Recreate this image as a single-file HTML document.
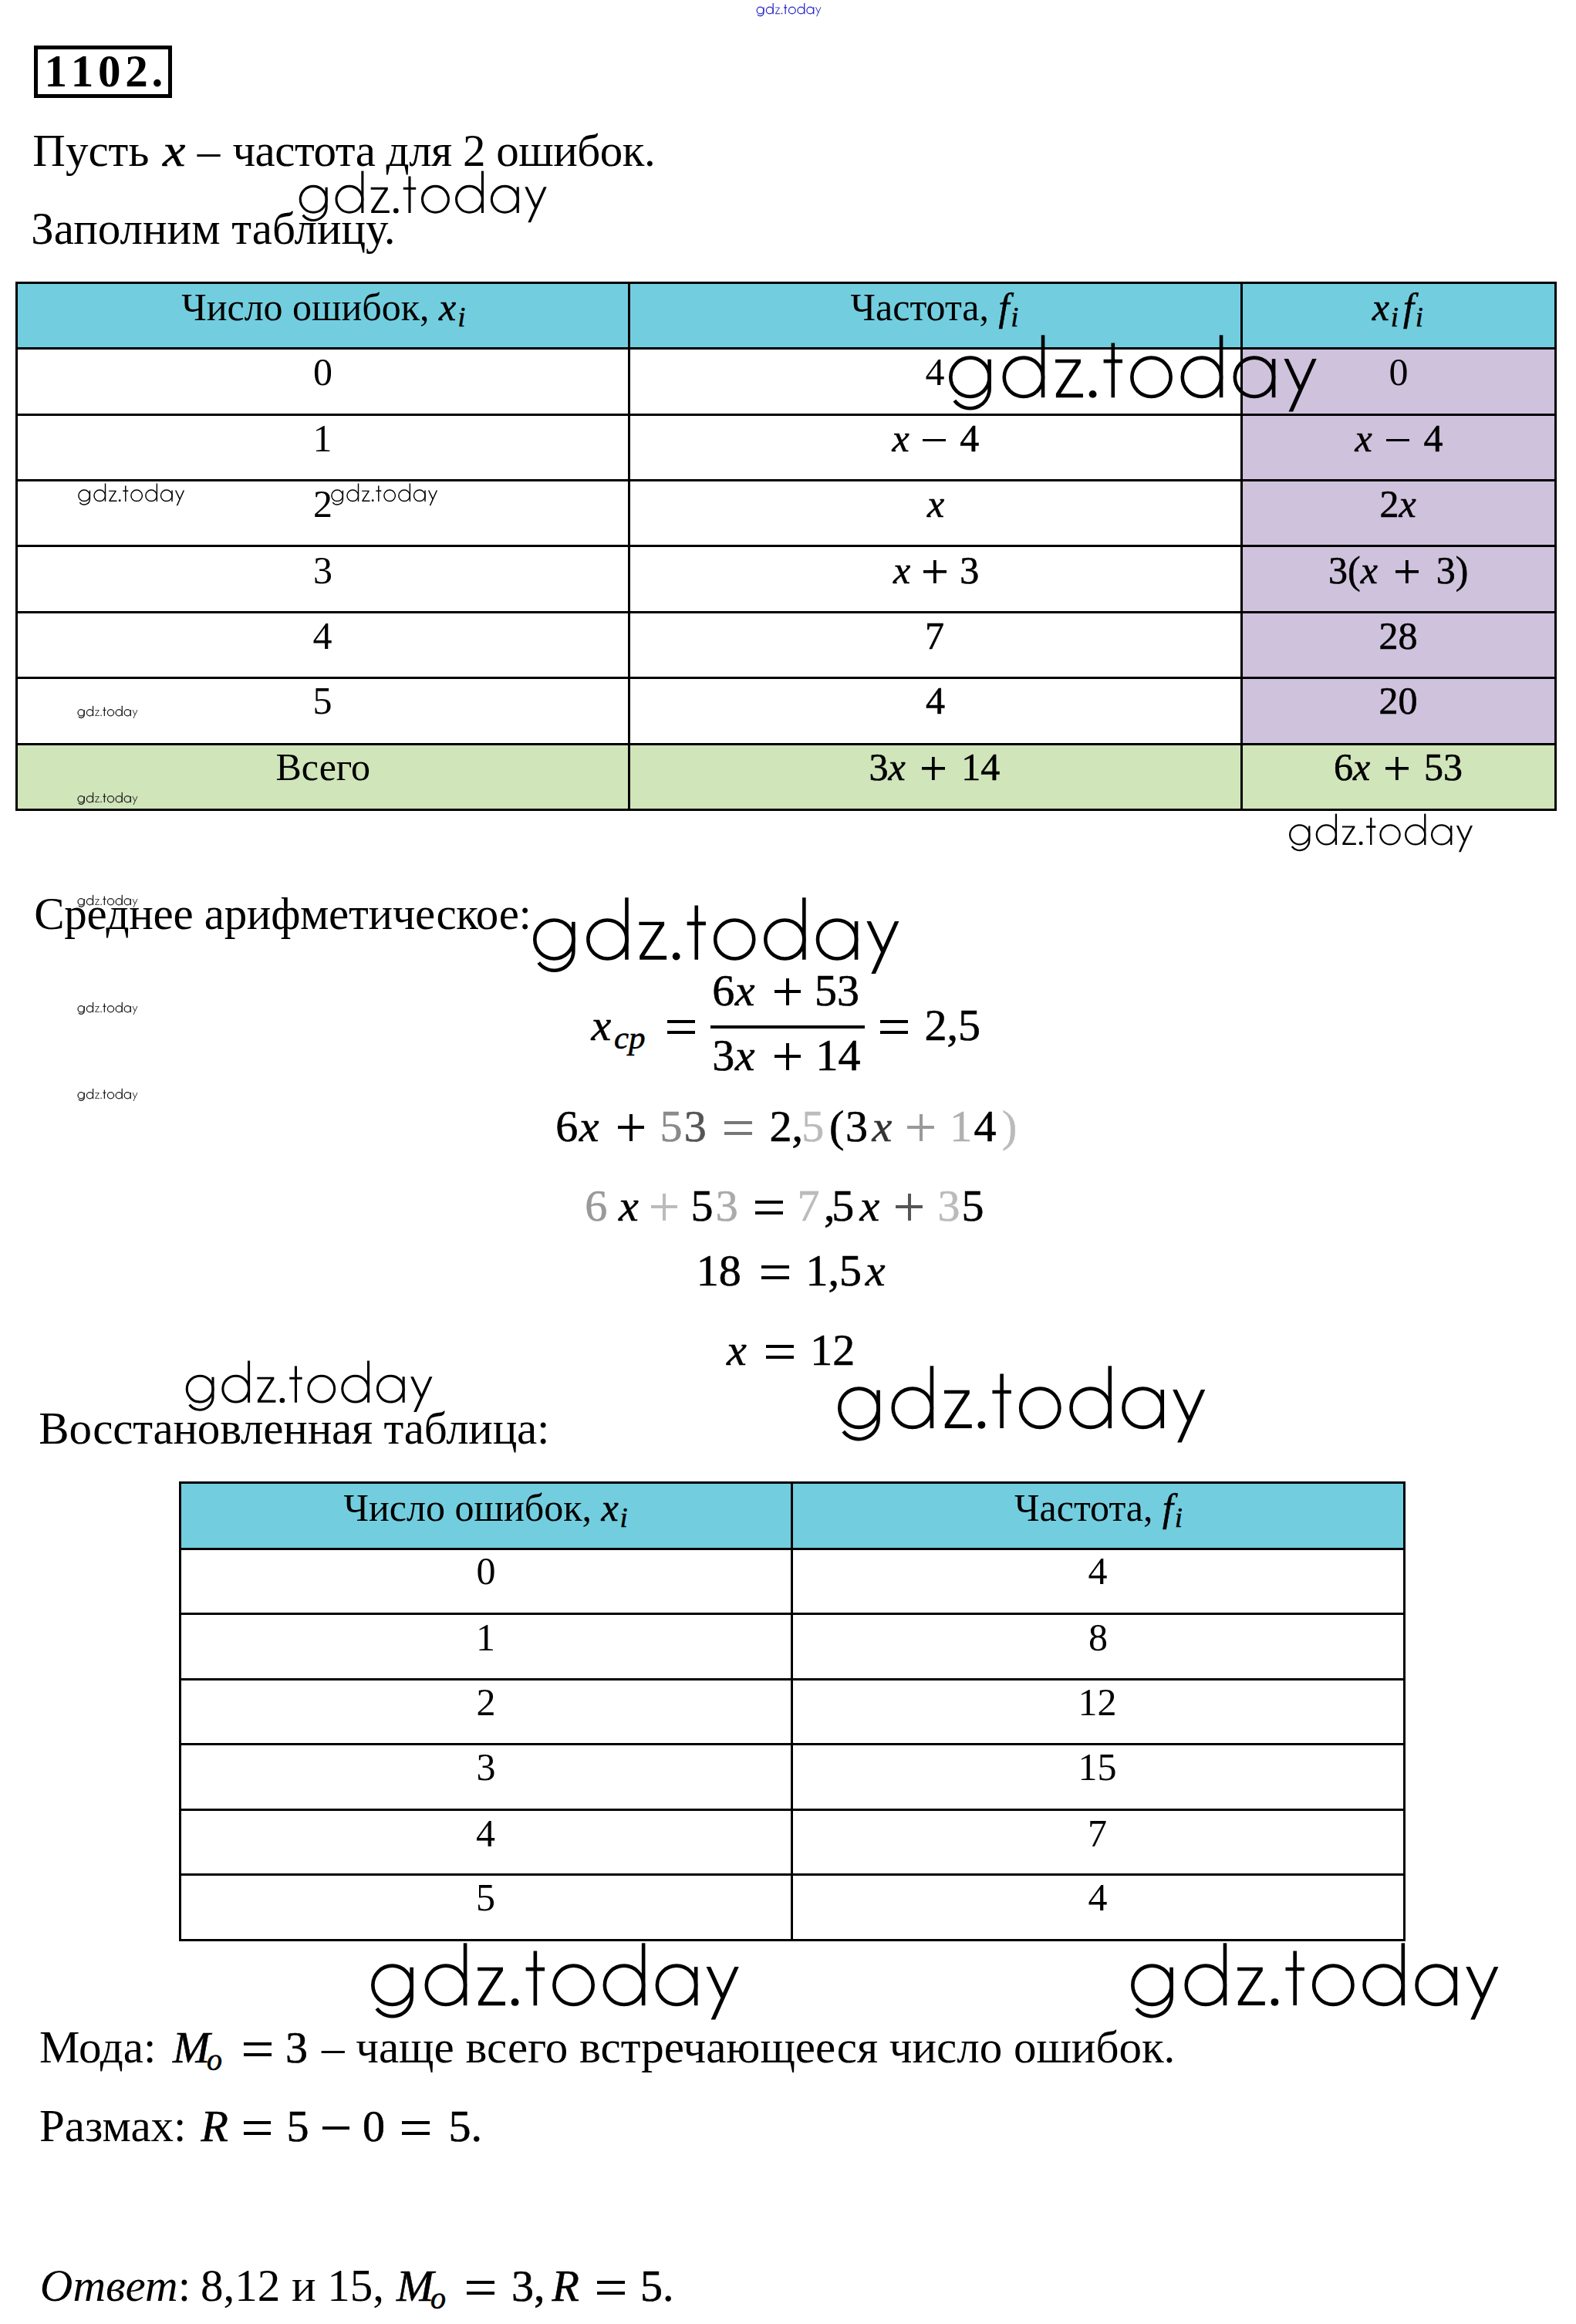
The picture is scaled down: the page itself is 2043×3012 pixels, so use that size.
<!DOCTYPE html>
<html><head><meta charset="utf-8"><title>1102</title>
<style>
html,body{margin:0;padding:0;background:#fff}
body{width:2043px;height:3012px;position:relative;overflow:hidden;font-family:'Liberation Serif',serif;color:#000}
.t{position:absolute;white-space:nowrap;font-family:'Liberation Serif',serif}
.op{margin:0 var(--m)} .pl{display:inline-block;width:.6em;height:.6em;background:linear-gradient(currentColor,currentColor) center/100% .075em no-repeat,linear-gradient(currentColor,currentColor) center/.075em 100% no-repeat} .mi{display:inline-block;width:.6em;height:.075em;background:currentColor;vertical-align:.252em} .eq{display:inline-block;width:.62em;height:.312em;box-sizing:border-box;border-top:.075em solid currentColor;border-bottom:.075em solid currentColor;vertical-align:.145em} sub{font-size:0.7em;vertical-align:-0.22em;font-style:italic;margin-left:.06em} .mt{-webkit-text-stroke:0.6px}
.wm{position:absolute;overflow:visible}
</style></head><body>
<svg width="0" height="0" style="position:absolute">
<defs>
<symbol id="w" viewBox="-4 -86 484 110" overflow="visible">
<g fill="none" stroke="currentColor" style="stroke-width:var(--sw,4.6)">
<circle cx="27.4" cy="-26.3" r="25.1"/>
<path d="M52.5,-49.2 V-11.1 A25.1,25.1 0 0 1 7.3,4.0"/>
<circle cx="96.7" cy="-26.3" r="25.1"/>
<path d="M121.8,-80.7 V0"/>
<path d="M212.4,-70.5 V0 M200.2,-47 H224.6"/>
<circle cx="262.0" cy="-26.3" r="25.1"/>
<circle cx="327.3" cy="-26.3" r="25.1"/>
<path d="M352.4,-80.7 V0"/>
<circle cx="395.2" cy="-26.3" r="25.1"/>
<path d="M420.3,-49.9 V0"/>
</g>
<path fill="currentColor" d="M137.8,-49.2 H170.6 V-44.9 L144.7,-5 H173.6 V0 H138.6 V-5 L164.5,-44.9 H137.8 Z"/>
<path fill="currentColor" d="M433.7,-50 H439.3 L457.9,-10 H452.3 Z M470.3,-50 H475.8 L445.3,18.3 H439.7 Z"/>
<circle fill="currentColor" cx="186.2" cy="-4.25" r="4.9"/>
</symbol>
</defs>
</svg>
<div style="position:absolute;left:44px;top:59px;width:169px;height:58px;border:5px solid #000;z-index:2"></div>
<div class="t" style="left:57.4px;top:63.3px;font-size:59px;line-height:59px;--m:0px;z-index:5;font-weight:bold;">1</div>
<div class="t" style="left:91.7px;top:63.3px;font-size:59px;line-height:59px;--m:0px;z-index:5;font-weight:bold;">1</div>
<div class="t" style="left:127.0px;top:63.3px;font-size:59px;line-height:59px;--m:0px;z-index:5;font-weight:bold;">0</div>
<div class="t" style="left:162.2px;top:63.3px;font-size:59px;line-height:59px;--m:0px;z-index:5;font-weight:bold;">2</div>
<div class="t" style="left:196.5px;top:63.3px;font-size:59px;line-height:59px;--m:0px;z-index:5;font-weight:bold;">.</div>
<div class="t" style="left:42.3px;top:166.0px;font-size:59px;line-height:59px;--m:0px;z-index:5;">Пусть</div>
<div class="t" style="left:211.3px;top:166.0px;font-size:59px;line-height:59px;--m:0px;z-index:5;transform:scaleX(1.12);transform-origin:0 0;-webkit-text-stroke:0.6px;"><i>x</i></div>
<div class="t" style="left:255.8px;top:166.0px;font-size:59px;line-height:59px;--m:0px;z-index:5;">–</div>
<div class="t" style="left:301.4px;top:166.0px;font-size:59px;line-height:59px;--m:0px;z-index:5;letter-spacing:-0.5px;">частота для 2 ошибок.</div>
<div class="t" style="left:40.3px;top:267.0px;font-size:59px;line-height:59px;--m:0px;z-index:5;">Заполним таблицу.</div>
<div style="position:absolute;left:20px;top:365px;width:1998px;height:85px;background:#72cedf;z-index:1"></div>
<div style="position:absolute;left:1608px;top:450px;width:410px;height:513px;background:#cfc2dd;z-index:1"></div>
<div style="position:absolute;left:20px;top:963px;width:1998px;height:85px;background:#d0e5ba;z-index:1"></div>
<div style="position:absolute;left:20px;top:365px;width:1998px;height:3px;background:#000;z-index:3"></div>
<div style="position:absolute;left:20px;top:450px;width:1998px;height:3px;background:#000;z-index:3"></div>
<div style="position:absolute;left:20px;top:536px;width:1998px;height:3px;background:#000;z-index:3"></div>
<div style="position:absolute;left:20px;top:621px;width:1998px;height:3px;background:#000;z-index:3"></div>
<div style="position:absolute;left:20px;top:706px;width:1998px;height:3px;background:#000;z-index:3"></div>
<div style="position:absolute;left:20px;top:792px;width:1998px;height:3px;background:#000;z-index:3"></div>
<div style="position:absolute;left:20px;top:877px;width:1998px;height:3px;background:#000;z-index:3"></div>
<div style="position:absolute;left:20px;top:963px;width:1998px;height:3px;background:#000;z-index:3"></div>
<div style="position:absolute;left:20px;top:1048px;width:1998px;height:3px;background:#000;z-index:3"></div>
<div style="position:absolute;left:20px;top:365px;width:3px;height:686px;background:#000;z-index:3"></div>
<div style="position:absolute;left:814px;top:365px;width:3px;height:686px;background:#000;z-index:3"></div>
<div style="position:absolute;left:1608px;top:365px;width:3px;height:686px;background:#000;z-index:3"></div>
<div style="position:absolute;left:2015px;top:365px;width:3px;height:686px;background:#000;z-index:3"></div>
<div class="t" style="left:235.2px;top:373.0px;font-size:50px;line-height:50px;--m:0px;z-index:5;">Число ошибок, <i class="mt">x</i><sub class="mt">i</sub></div>
<div class="t" style="left:1102.5px;top:373.0px;font-size:50px;line-height:50px;--m:0px;z-index:5;">Частота, <i class="mt">f</i><sub class="mt">i</sub></div>
<div class="t" style="left:1778.7px;top:373.0px;font-size:50px;line-height:50px;--m:0px;z-index:5;"><i class="mt">x</i><sub class="mt" style="margin-right:.18em">i</sub><i class="mt">f</i><sub class="mt">i</sub></div>
<div class="t" style="left:406.0px;top:457.0px;font-size:50px;line-height:50px;--m:0px;z-index:5;">0</div>
<div class="t" style="left:405.5px;top:543.0px;font-size:50px;line-height:50px;--m:0px;z-index:5;">1</div>
<div class="t" style="left:406.0px;top:628.0px;font-size:50px;line-height:50px;--m:0px;z-index:5;">2</div>
<div class="t" style="left:406.0px;top:714.0px;font-size:50px;line-height:50px;--m:0px;z-index:5;">3</div>
<div class="t" style="left:405.5px;top:799.0px;font-size:50px;line-height:50px;--m:0px;z-index:5;">4</div>
<div class="t" style="left:405.5px;top:883.0px;font-size:50px;line-height:50px;--m:0px;z-index:5;">5</div>
<div class="t" style="left:357.5px;top:969.0px;font-size:50px;line-height:50px;--m:0px;z-index:5;">Всего</div>
<div class="t" style="left:1199.4px;top:457.0px;font-size:50px;line-height:50px;--m:0px;z-index:5;">4</div>
<div class="t" style="left:1156.5px;top:543.0px;font-size:50px;line-height:50px;--m:17.75px;z-index:5;-webkit-text-stroke:0.6px;"><i>x</i><span class="op mi"></span>4</div>
<div class="t" style="left:1202.0px;top:628.0px;font-size:50px;line-height:50px;--m:0px;z-index:5;-webkit-text-stroke:0.6px;"><i>x</i></div>
<div class="t" style="left:1158.0px;top:714.0px;font-size:50px;line-height:50px;--m:17.0px;z-index:5;-webkit-text-stroke:0.6px;"><i>x</i><span class="op pl"></span>3</div>
<div class="t" style="left:1199.0px;top:799.0px;font-size:50px;line-height:50px;--m:0px;z-index:5;-webkit-text-stroke:0.6px;">7</div>
<div class="t" style="left:1200.0px;top:883.0px;font-size:50px;line-height:50px;--m:0px;z-index:5;-webkit-text-stroke:0.6px;">4</div>
<div class="t" style="left:1126.5px;top:969.0px;font-size:50px;line-height:50px;--m:21.25px;z-index:5;-webkit-text-stroke:0.6px;">3<i>x</i><span class="op pl"></span>14</div>
<div class="t" style="left:1800.5px;top:457.0px;font-size:50px;line-height:50px;--m:0px;z-index:5;">0</div>
<div class="t" style="left:1756.5px;top:543.0px;font-size:50px;line-height:50px;--m:18.4px;z-index:5;-webkit-text-stroke:0.6px;"><i>x</i><span class="op mi"></span>4</div>
<div class="t" style="left:1788.5px;top:628.0px;font-size:50px;line-height:50px;--m:0px;z-index:5;-webkit-text-stroke:0.6px;">2<i>x</i></div>
<div class="t" style="left:1722.0px;top:714.0px;font-size:50px;line-height:50px;--m:23.0px;z-index:5;-webkit-text-stroke:0.6px;">3(<i>x</i><span class="op pl"></span>3)</div>
<div class="t" style="left:1787.5px;top:799.0px;font-size:50px;line-height:50px;--m:0px;z-index:5;-webkit-text-stroke:0.6px;">28</div>
<div class="t" style="left:1787.5px;top:883.0px;font-size:50px;line-height:50px;--m:0px;z-index:5;-webkit-text-stroke:0.6px;">20</div>
<div class="t" style="left:1729.0px;top:969.0px;font-size:50px;line-height:50px;--m:19.9px;z-index:5;-webkit-text-stroke:0.6px;">6<i>x</i><span class="op pl"></span>53</div>
<div class="t" style="left:44.2px;top:1155.0px;font-size:59px;line-height:59px;--m:0px;z-index:5;letter-spacing:-0.3px">Среднее арифметическое:</div>
<div class="t" style="left:766.4px;top:1300.0px;font-size:58px;line-height:58px;--m:0px;z-index:5;-webkit-text-stroke:0.6px;"><i>x</i></div>
<div class="t" style="left:796.0px;top:1323.0px;font-size:43px;line-height:43px;--m:0px;z-index:5;-webkit-text-stroke:0.6px;"><i>cp</i></div>
<div class="t" style="left:864.8px;top:1300.0px;font-size:58px;line-height:58px;--m:0px;z-index:5;-webkit-text-stroke:0.6px;"><span class="eq"></span></div>
<div style="position:absolute;left:921px;top:1329px;width:200px;height:4px;background:#000;z-index:1"></div>
<div class="t" style="left:923.3px;top:1255.0px;font-size:58px;line-height:58px;--m:0px;z-index:5;-webkit-text-stroke:0.6px;">6</div>
<div class="t" style="left:952.8px;top:1255.0px;font-size:58px;line-height:58px;--m:0px;z-index:5;-webkit-text-stroke:0.6px;"><i>x</i></div>
<div class="t" style="left:1003.7px;top:1255.0px;font-size:58px;line-height:58px;--m:0px;z-index:5;-webkit-text-stroke:0.6px;"><span class="pl"></span></div>
<div class="t" style="left:1056.0px;top:1255.0px;font-size:58px;line-height:58px;--m:0px;z-index:5;-webkit-text-stroke:0.6px;">53</div>
<div class="t" style="left:923.3px;top:1339.0px;font-size:58px;line-height:58px;--m:0px;z-index:5;-webkit-text-stroke:0.6px;">3</div>
<div class="t" style="left:952.8px;top:1339.0px;font-size:58px;line-height:58px;--m:0px;z-index:5;-webkit-text-stroke:0.6px;"><i>x</i></div>
<div class="t" style="left:1003.7px;top:1339.0px;font-size:58px;line-height:58px;--m:0px;z-index:5;-webkit-text-stroke:0.6px;"><span class="pl"></span></div>
<div class="t" style="left:1057.6px;top:1339.0px;font-size:58px;line-height:58px;--m:0px;z-index:5;-webkit-text-stroke:0.6px;">14</div>
<div class="t" style="left:1141.0px;top:1300.0px;font-size:58px;line-height:58px;--m:0px;z-index:5;-webkit-text-stroke:0.6px;"><span class="eq"></span></div>
<div class="t" style="left:1198.5px;top:1300.0px;font-size:58px;line-height:58px;--m:0px;z-index:5;-webkit-text-stroke:0.6px;">2,5</div>
<div class="t" style="left:720.3px;top:1431.0px;font-size:58px;line-height:58px;--m:0px;z-index:5;-webkit-text-stroke:0.6px;">6</div>
<div class="t" style="left:750.7px;top:1431.0px;font-size:58px;line-height:58px;--m:0px;z-index:5;-webkit-text-stroke:0.6px;"><i>x</i></div>
<div class="t" style="left:800.5px;top:1431.0px;font-size:58px;line-height:58px;--m:0px;z-index:5;-webkit-text-stroke:0.6px;"><span class="pl"></span></div>
<div class="t" style="left:855.4px;top:1431.0px;font-size:58px;line-height:58px;--m:0px;z-index:5;color:#8a8a8a;-webkit-text-stroke:0.6px;">5</div>
<div class="t" style="left:886.8px;top:1431.0px;font-size:58px;line-height:58px;--m:0px;z-index:5;color:#555;-webkit-text-stroke:0.6px;">3</div>
<div class="t" style="left:938.6px;top:1431.0px;font-size:58px;line-height:58px;--m:0px;z-index:5;color:#777;-webkit-text-stroke:0.6px;"><span class="eq"></span></div>
<div class="t" style="left:997.5px;top:1431.0px;font-size:58px;line-height:58px;--m:0px;z-index:5;-webkit-text-stroke:0.6px;">2,</div>
<div class="t" style="left:1039.3px;top:1431.0px;font-size:58px;line-height:58px;--m:0px;z-index:5;color:#bbb;-webkit-text-stroke:0.6px;">5</div>
<div class="t" style="left:1074.9px;top:1431.0px;font-size:58px;line-height:58px;--m:0px;z-index:5;-webkit-text-stroke:0.6px;">(</div>
<div class="t" style="left:1096.0px;top:1431.0px;font-size:58px;line-height:58px;--m:0px;z-index:5;-webkit-text-stroke:0.6px;">3</div>
<div class="t" style="left:1130.6px;top:1431.0px;font-size:58px;line-height:58px;--m:0px;z-index:5;color:#333;-webkit-text-stroke:0.6px;"><i>x</i></div>
<div class="t" style="left:1176.3px;top:1431.0px;font-size:58px;line-height:58px;--m:0px;z-index:5;color:#999;-webkit-text-stroke:0.6px;"><span class="pl"></span></div>
<div class="t" style="left:1231.2px;top:1431.0px;font-size:58px;line-height:58px;--m:0px;z-index:5;color:#b0b0b0;-webkit-text-stroke:0.6px;">1</div>
<div class="t" style="left:1262.6px;top:1431.0px;font-size:58px;line-height:58px;--m:0px;z-index:5;-webkit-text-stroke:0.6px;">4</div>
<div class="t" style="left:1299.0px;top:1431.0px;font-size:58px;line-height:58px;--m:0px;z-index:5;color:#bbb;-webkit-text-stroke:0.6px;">)</div>
<div class="t" style="left:758.3px;top:1534.0px;font-size:58px;line-height:58px;--m:0px;z-index:5;color:#999;-webkit-text-stroke:0.6px;">6</div>
<div class="t" style="left:802.0px;top:1534.0px;font-size:58px;line-height:58px;--m:0px;z-index:5;-webkit-text-stroke:0.6px;"><i>x</i></div>
<div class="t" style="left:843.6px;top:1534.0px;font-size:58px;line-height:58px;--m:0px;z-index:5;color:#bbb;-webkit-text-stroke:0.6px;"><span class="pl"></span></div>
<div class="t" style="left:895.4px;top:1534.0px;font-size:58px;line-height:58px;--m:0px;z-index:5;-webkit-text-stroke:0.6px;">5</div>
<div class="t" style="left:927.8px;top:1534.0px;font-size:58px;line-height:58px;--m:0px;z-index:5;color:#aaa;-webkit-text-stroke:0.6px;">3</div>
<div class="t" style="left:978.6px;top:1534.0px;font-size:58px;line-height:58px;--m:0px;z-index:5;-webkit-text-stroke:0.6px;"><span class="eq"></span></div>
<div class="t" style="left:1033.4px;top:1534.0px;font-size:58px;line-height:58px;--m:0px;z-index:5;color:#bbb;-webkit-text-stroke:0.6px;">7</div>
<div class="t" style="left:1067.9px;top:1534.0px;font-size:58px;line-height:58px;--m:0px;z-index:5;-webkit-text-stroke:0.6px;">,</div>
<div class="t" style="left:1078.3px;top:1534.0px;font-size:58px;line-height:58px;--m:0px;z-index:5;-webkit-text-stroke:0.6px;">5</div>
<div class="t" style="left:1114.4px;top:1534.0px;font-size:58px;line-height:58px;--m:0px;z-index:5;-webkit-text-stroke:0.6px;"><i>x</i></div>
<div class="t" style="left:1161.3px;top:1534.0px;font-size:58px;line-height:58px;--m:0px;z-index:5;color:#555;-webkit-text-stroke:0.6px;"><span class="pl"></span></div>
<div class="t" style="left:1215.4px;top:1534.0px;font-size:58px;line-height:58px;--m:0px;z-index:5;color:#bbb;-webkit-text-stroke:0.6px;">3</div>
<div class="t" style="left:1246.6px;top:1534.0px;font-size:58px;line-height:58px;--m:0px;z-index:5;-webkit-text-stroke:0.6px;">5</div>
<div class="t" style="left:902.7px;top:1618.0px;font-size:58px;line-height:58px;--m:0px;z-index:5;-webkit-text-stroke:0.6px;">18</div>
<div class="t" style="left:986.6px;top:1618.0px;font-size:58px;line-height:58px;--m:0px;z-index:5;-webkit-text-stroke:0.6px;"><span class="eq"></span></div>
<div class="t" style="left:1044.5px;top:1618.0px;font-size:58px;line-height:58px;--m:0px;z-index:5;-webkit-text-stroke:0.6px;">1,5</div>
<div class="t" style="left:1121.8px;top:1618.0px;font-size:58px;line-height:58px;--m:0px;z-index:5;-webkit-text-stroke:0.6px;"><i>x</i></div>
<div class="t" style="left:942.0px;top:1721.0px;font-size:58px;line-height:58px;--m:0px;z-index:5;-webkit-text-stroke:0.6px;"><i>x</i></div>
<div class="t" style="left:993.3px;top:1721.0px;font-size:58px;line-height:58px;--m:0px;z-index:5;-webkit-text-stroke:0.6px;"><span class="eq"></span></div>
<div class="t" style="left:1050.2px;top:1721.0px;font-size:58px;line-height:58px;--m:0px;z-index:5;-webkit-text-stroke:0.6px;">12</div>
<div class="t" style="left:50.3px;top:1822.0px;font-size:59px;line-height:59px;--m:0px;z-index:5;letter-spacing:-0.2px">Восстановленная таблица:</div>
<div style="position:absolute;left:232px;top:1920px;width:1590px;height:86px;background:#72cedf;z-index:1"></div>
<div style="position:absolute;left:232px;top:1920px;width:1590px;height:3px;background:#000;z-index:3"></div>
<div style="position:absolute;left:232px;top:2006px;width:1590px;height:3px;background:#000;z-index:3"></div>
<div style="position:absolute;left:232px;top:2090px;width:1590px;height:3px;background:#000;z-index:3"></div>
<div style="position:absolute;left:232px;top:2175px;width:1590px;height:3px;background:#000;z-index:3"></div>
<div style="position:absolute;left:232px;top:2259px;width:1590px;height:3px;background:#000;z-index:3"></div>
<div style="position:absolute;left:232px;top:2344px;width:1590px;height:3px;background:#000;z-index:3"></div>
<div style="position:absolute;left:232px;top:2428px;width:1590px;height:3px;background:#000;z-index:3"></div>
<div style="position:absolute;left:232px;top:2513px;width:1590px;height:3px;background:#000;z-index:3"></div>
<div style="position:absolute;left:232px;top:1920px;width:3px;height:596px;background:#000;z-index:3"></div>
<div style="position:absolute;left:1025px;top:1920px;width:3px;height:596px;background:#000;z-index:3"></div>
<div style="position:absolute;left:1819px;top:1920px;width:3px;height:596px;background:#000;z-index:3"></div>
<div class="t" style="left:445.6px;top:1929.0px;font-size:50px;line-height:50px;--m:0px;z-index:5;">Число ошибок, <i class="mt">x</i><sub class="mt">i</sub></div>
<div class="t" style="left:1315.0px;top:1929.0px;font-size:50px;line-height:50px;--m:0px;z-index:5;">Частота, <i class="mt">f</i><sub class="mt">i</sub></div>
<div class="t" style="left:617.5px;top:2011.0px;font-size:50px;line-height:50px;--m:0px;z-index:5;">0</div>
<div class="t" style="left:1410.5px;top:2011.0px;font-size:50px;line-height:50px;--m:0px;z-index:5;">4</div>
<div class="t" style="left:617.0px;top:2097.0px;font-size:50px;line-height:50px;--m:0px;z-index:5;">1</div>
<div class="t" style="left:1411.0px;top:2097.0px;font-size:50px;line-height:50px;--m:0px;z-index:5;">8</div>
<div class="t" style="left:617.5px;top:2181.0px;font-size:50px;line-height:50px;--m:0px;z-index:5;">2</div>
<div class="t" style="left:1397.5px;top:2181.0px;font-size:50px;line-height:50px;--m:0px;z-index:5;">12</div>
<div class="t" style="left:617.5px;top:2265.0px;font-size:50px;line-height:50px;--m:0px;z-index:5;">3</div>
<div class="t" style="left:1397.5px;top:2265.0px;font-size:50px;line-height:50px;--m:0px;z-index:5;">15</div>
<div class="t" style="left:617.0px;top:2351.0px;font-size:50px;line-height:50px;--m:0px;z-index:5;">4</div>
<div class="t" style="left:1410.0px;top:2351.0px;font-size:50px;line-height:50px;--m:0px;z-index:5;">7</div>
<div class="t" style="left:617.0px;top:2434.0px;font-size:50px;line-height:50px;--m:0px;z-index:5;">5</div>
<div class="t" style="left:1410.5px;top:2434.0px;font-size:50px;line-height:50px;--m:0px;z-index:5;">4</div>
<div class="t" style="left:51.0px;top:2624.0px;font-size:59px;line-height:59px;--m:0px;z-index:5;">Мода:</div>
<div class="t" style="left:224.0px;top:2625.0px;font-size:58px;line-height:58px;--m:0px;z-index:5;-webkit-text-stroke:0.6px;"><i>M</i></div>
<div class="t" style="left:268.0px;top:2650.0px;font-size:40px;line-height:40px;--m:0px;z-index:5;-webkit-text-stroke:0.6px;"><i>o</i></div>
<div class="t" style="left:316.0px;top:2625.0px;font-size:58px;line-height:58px;--m:0px;z-index:5;-webkit-text-stroke:0.6px;"><span class="eq"></span></div>
<div class="t" style="left:370.0px;top:2625.0px;font-size:58px;line-height:58px;--m:0px;z-index:5;-webkit-text-stroke:0.6px;">3</div>
<div class="t" style="left:417.0px;top:2624.0px;font-size:59px;line-height:59px;--m:0px;z-index:5;">– чаще всего встречающееся число ошибок.</div>
<div class="t" style="left:51.0px;top:2726.0px;font-size:59px;line-height:59px;--m:0px;z-index:5;">Размах:</div>
<div class="t" style="left:260.6px;top:2727.0px;font-size:58px;line-height:58px;--m:0px;z-index:5;-webkit-text-stroke:0.6px;"><i>R</i></div>
<div class="t" style="left:315.5px;top:2727.0px;font-size:58px;line-height:58px;--m:0px;z-index:5;-webkit-text-stroke:0.6px;"><span class="eq"></span></div>
<div class="t" style="left:371.4px;top:2727.0px;font-size:58px;line-height:58px;--m:0px;z-index:5;-webkit-text-stroke:0.6px;">5</div>
<div class="t" style="left:418.0px;top:2727.0px;font-size:58px;line-height:58px;--m:0px;z-index:5;-webkit-text-stroke:0.6px;"><span class="mi"></span></div>
<div class="t" style="left:470.0px;top:2727.0px;font-size:58px;line-height:58px;--m:0px;z-index:5;-webkit-text-stroke:0.6px;">0</div>
<div class="t" style="left:521.0px;top:2727.0px;font-size:58px;line-height:58px;--m:0px;z-index:5;-webkit-text-stroke:0.6px;"><span class="eq"></span></div>
<div class="t" style="left:581.5px;top:2727.0px;font-size:58px;line-height:58px;--m:0px;z-index:5;-webkit-text-stroke:0.6px;">5.</div>
<div class="t" style="left:51.8px;top:2933.0px;font-size:59px;line-height:59px;--m:0px;z-index:5;"><i>Ответ</i>:</div>
<div class="t" style="left:260.0px;top:2933.0px;font-size:59px;line-height:59px;--m:0px;z-index:5;">8,12 и 15,</div>
<div class="t" style="left:514.0px;top:2934.0px;font-size:58px;line-height:58px;--m:0px;z-index:5;-webkit-text-stroke:0.6px;"><i>M</i></div>
<div class="t" style="left:558.0px;top:2959.0px;font-size:40px;line-height:40px;--m:0px;z-index:5;-webkit-text-stroke:0.6px;"><i>o</i></div>
<div class="t" style="left:605.0px;top:2934.0px;font-size:58px;line-height:58px;--m:0px;z-index:5;-webkit-text-stroke:0.6px;"><span class="eq"></span></div>
<div class="t" style="left:663.0px;top:2934.0px;font-size:58px;line-height:58px;--m:0px;z-index:5;-webkit-text-stroke:0.6px;">3,</div>
<div class="t" style="left:715.5px;top:2934.0px;font-size:58px;line-height:58px;--m:0px;z-index:5;-webkit-text-stroke:0.6px;"><i>R</i></div>
<div class="t" style="left:774.0px;top:2934.0px;font-size:58px;line-height:58px;--m:0px;z-index:5;-webkit-text-stroke:0.6px;"><span class="eq"></span></div>
<div class="t" style="left:830.0px;top:2934.0px;font-size:58px;line-height:58px;--m:0px;z-index:5;-webkit-text-stroke:0.6px;">5.</div>
<svg class="wm" style="left:980.00px;top:3.15px;z-index:20;color:#2626c8;" width="85.24" height="19.37" viewBox="-4 -86 484 110"><use href="#w" x="-4" y="-86" width="484" height="110" style="--sw:7"/></svg>
<svg class="wm" style="left:385.30px;top:217.98px;z-index:20;color:#000;" width="326.53" height="74.21" viewBox="-4 -86 484 110"><use href="#w" x="-4" y="-86" width="484" height="110"/></svg>
<svg class="wm" style="left:1225.69px;top:428.84px;z-index:20;color:#000;" width="484.92" height="110.21" viewBox="-4 -86 484 110"><use href="#w" x="-4" y="-86" width="484" height="110"/></svg>
<svg class="wm" style="left:99.94px;top:624.76px;z-index:20;color:#000;" width="140.38" height="31.90" viewBox="-4 -86 484 110"><use href="#w" x="-4" y="-86" width="484" height="110" style="--sw:5"/></svg>
<svg class="wm" style="left:428.34px;top:624.76px;z-index:20;color:#000;" width="140.38" height="31.90" viewBox="-4 -86 484 110"><use href="#w" x="-4" y="-86" width="484" height="110" style="--sw:5"/></svg>
<svg class="wm" style="left:100.15px;top:913.84px;z-index:20;color:#222;" width="79.14" height="17.99" viewBox="-4 -86 484 110"><use href="#w" x="-4" y="-86" width="484" height="110" style="--sw:8"/></svg>
<svg class="wm" style="left:100.15px;top:1026.24px;z-index:20;color:#222;" width="79.14" height="17.99" viewBox="-4 -86 484 110"><use href="#w" x="-4" y="-86" width="484" height="110" style="--sw:8"/></svg>
<svg class="wm" style="left:1669.00px;top:1051.78px;z-index:20;color:#000;" width="242.10" height="55.02" viewBox="-4 -86 484 110"><use href="#w" x="-4" y="-86" width="484" height="110"/></svg>
<svg class="wm" style="left:100.15px;top:1158.94px;z-index:20;color:#222;" width="79.14" height="17.99" viewBox="-4 -86 484 110"><use href="#w" x="-4" y="-86" width="484" height="110" style="--sw:8"/></svg>
<svg class="wm" style="left:687.01px;top:1157.55px;z-index:20;color:#000;" width="482.58" height="109.68" viewBox="-4 -86 484 110"><use href="#w" x="-4" y="-86" width="484" height="110"/></svg>
<svg class="wm" style="left:100.15px;top:1297.94px;z-index:20;color:#222;" width="79.14" height="17.99" viewBox="-4 -86 484 110"><use href="#w" x="-4" y="-86" width="484" height="110" style="--sw:8"/></svg>
<svg class="wm" style="left:100.15px;top:1409.54px;z-index:20;color:#222;" width="79.14" height="17.99" viewBox="-4 -86 484 110"><use href="#w" x="-4" y="-86" width="484" height="110" style="--sw:8"/></svg>
<svg class="wm" style="left:238.31px;top:1759.90px;z-index:20;color:#000;" width="325.31" height="73.93" viewBox="-4 -86 484 110"><use href="#w" x="-4" y="-86" width="484" height="110"/></svg>
<svg class="wm" style="left:1081.70px;top:1764.71px;z-index:20;color:#000;" width="484.51" height="110.12" viewBox="-4 -86 484 110"><use href="#w" x="-4" y="-86" width="484" height="110"/></svg>
<svg class="wm" style="left:477.39px;top:2512.92px;z-index:20;color:#000;" width="485.02" height="110.23" viewBox="-4 -86 484 110"><use href="#w" x="-4" y="-86" width="484" height="110"/></svg>
<svg class="wm" style="left:1461.69px;top:2512.99px;z-index:20;color:#000;" width="484.61" height="110.14" viewBox="-4 -86 484 110"><use href="#w" x="-4" y="-86" width="484" height="110"/></svg>
</body></html>
